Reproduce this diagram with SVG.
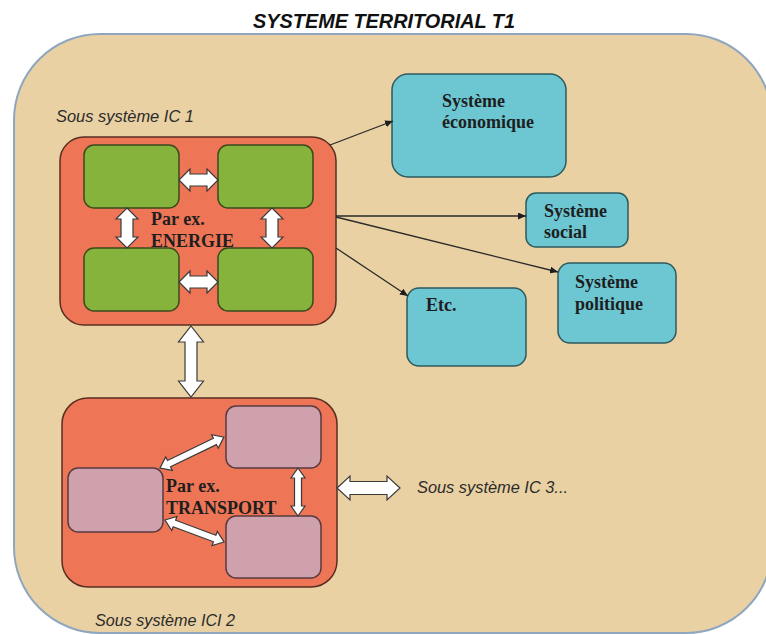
<svg xmlns="http://www.w3.org/2000/svg" width="766" height="634" viewBox="0 0 766 634">
<defs>
<style>
.outer{fill:#E9D1A3;stroke:#8FA6BF;stroke-width:2}
.red{fill:#EE7656;stroke:#5A2E22;stroke-width:1.5}
.green{fill:#86B33C;stroke:#3B4A1C;stroke-width:1.5}
.teal{fill:#6CC7D2;stroke:#2E5A5E;stroke-width:1.5}
.pink{fill:#CFA1AC;stroke:#5A3A40;stroke-width:1.5}
.blk{fill:#FFFFFF;stroke:#3A3A3A;stroke-width:1.2;stroke-linejoin:miter}
.thin{fill:none;stroke:#2A2A2A;stroke-width:1.3;marker-end:url(#ah)}
.lbl{font-family:"Liberation Serif","Times New Roman",serif;font-weight:bold;font-size:18px;fill:#1E1E1E}
.ital{font-family:"Liberation Sans",Arial,sans-serif;font-style:italic;font-size:16px;fill:#2B2B2B}
.title{font-family:"Liberation Sans",Arial,sans-serif;font-style:italic;font-weight:bold;font-size:21px;fill:#111}
</style>
<marker id="ah" markerWidth="8" markerHeight="7" refX="8" refY="3.5" orient="auto" markerUnits="userSpaceOnUse">
<path d="M0,0 L8,3.5 L0,7 z" fill="#1E1E1E"/>
</marker>
</defs>

<text class="title" x="253" y="28" textLength="262" lengthAdjust="spacingAndGlyphs">SYSTEME TERRITORIAL T1</text>

<g id="territoire">
<rect class="outer" x="14" y="34" width="758" height="599" rx="86" ry="86"/>
</g>

<g id="label-ic1"><text class="ital" x="56" y="122" textLength="138" lengthAdjust="spacingAndGlyphs">Sous système IC 1</text></g>
<g id="label-ici2"><text class="ital" x="95" y="626" textLength="140" lengthAdjust="spacingAndGlyphs">Sous système ICI 2</text></g>
<g id="label-ic3"><text class="ital" x="417" y="493" textLength="151" lengthAdjust="spacingAndGlyphs">Sous système IC 3...</text></g>

<g id="ic1">
<rect class="red" x="60" y="137" width="276" height="188" rx="24" ry="24"/>
</g>
<g id="ic1-a"><rect class="green" x="84" y="145" width="95" height="63" rx="10" ry="10"/></g>
<g id="ic1-b"><rect class="green" x="218" y="145" width="95" height="63" rx="10" ry="10"/></g>
<g id="ic1-c"><rect class="green" x="84" y="248" width="95" height="63" rx="10" ry="10"/></g>
<g id="ic1-d"><rect class="green" x="218" y="248" width="95" height="63" rx="10" ry="10"/></g>

<g id="ic2">
<rect class="red" x="62" y="398" width="275" height="189" rx="26" ry="26"/>
</g>
<g id="ic2-a"><rect class="pink" x="226" y="406" width="95" height="62" rx="10" ry="10"/></g>
<g id="ic2-b"><rect class="pink" x="68" y="468" width="95" height="64" rx="10" ry="10"/></g>
<g id="ic2-c"><rect class="pink" x="226" y="516" width="95" height="62" rx="10" ry="10"/></g>

<g id="economique">
<rect class="teal" x="392" y="74" width="174" height="103" rx="16" ry="16"/>
<text class="lbl" x="442" y="107">Système</text>
<text class="lbl" x="442" y="128">économique</text>
</g>
<g id="social">
<rect class="teal" x="526" y="193" width="102" height="54" rx="10" ry="10"/>
<text class="lbl" x="544" y="217">Système</text>
<text class="lbl" x="544" y="238">social</text>
</g>
<g id="politique">
<rect class="teal" x="558" y="263" width="118" height="80" rx="12" ry="12"/>
<text class="lbl" x="575" y="288">Système</text>
<text class="lbl" x="575" y="310">politique</text>
</g>
<g id="etc">
<rect class="teal" x="407" y="288" width="119" height="78" rx="12" ry="12"/>
<text class="lbl" x="426" y="311">Etc.</text>
</g>

<g id="connectors">
<line class="thin" x1="330" y1="145" x2="393" y2="121"/>
<line class="thin" x1="336" y1="216" x2="526" y2="216"/>
<line class="thin" x1="336" y1="217" x2="558" y2="272"/>
<line class="thin" x1="336" y1="248" x2="408" y2="296"/>

<polygon class="blk" points="179,180 190,169 190,174 207,174 207,169 218,180 207,191 207,186 190,186 190,191"/>
<polygon class="blk" points="179,282 190,271 190,276 207,276 207,271 218,282 207,293 207,288 190,288 190,293"/>
<polygon class="blk" points="127,208 138,219 133,219 133,237 138,237 127,248 116,237 121,237 121,219 116,219"/>
<polygon class="blk" points="272,208 283,219 278,219 278,237 283,237 272,248 261,237 266,237 266,219 261,219"/>

<polygon class="blk" points="191,326 203.5,342 197,342 197,381 203.5,381 191,397 178.5,381 185,381 185,342 178.5,342"/>
<polygon class="blk" points="337,488 350,476 350,481.5 387,481.5 387,476 400,488 387,500 387,494.5 350,494.5 350,500"/>

<polygon class="blk" points="298,468 305,478 301.5,478 301.5,506 305,506 298,516 291,506 294.5,506 294.5,478 291,478"/>
<polygon class="blk" transform="translate(160,468) rotate(-25.8)" points="0,0 10,-7.5 10,-3.5 61,-3.5 61,-7.5 71,0 61,7.5 61,3.5 10,3.5 10,7.5"/>
<polygon class="blk" transform="translate(165,520) rotate(20.4)" points="0,0 10,-7.5 10,-3.5 53,-3.5 53,-7.5 63,0 53,7.5 53,3.5 10,3.5 10,7.5"/>
</g>

<g id="ic1-label">
<text class="lbl" x="151" y="225">Par ex.</text>
<text class="lbl" x="151" y="247">ENERGIE</text>
</g>
<g id="ic2-label">
<text class="lbl" x="166" y="492">Par ex.</text>
<text class="lbl" x="166" y="514">TRANSPORT</text>
</g>
</svg>
